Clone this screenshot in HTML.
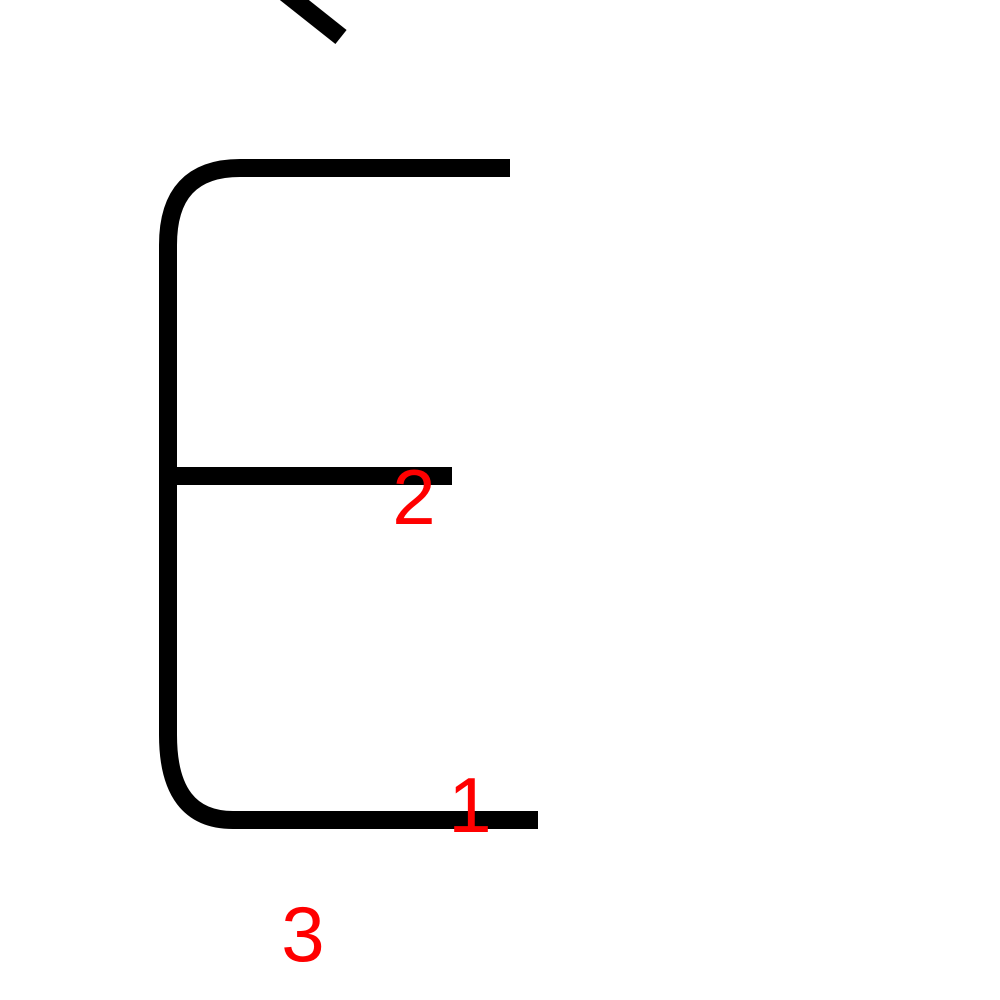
<!DOCTYPE html>
<html>
<head>
<meta charset="utf-8">
<style>
  html, body { margin: 0; padding: 0; background: #fff; }
  svg { display: block; }
  text { font-family: "Liberation Sans", Arial, sans-serif; fill: #ff0000; }
</style>
</head>
<body>
<svg width="1000" height="1000" viewBox="0 0 1000 1000">
  <rect x="0" y="0" width="1000" height="1000" fill="#fff"/>
  <g fill="none" stroke="#000" stroke-width="18">
    <path d="M283 -9 L341 37"/>
    <path d="M510 168 L240 168 Q168 168 168 245 L168 735 Q168 820 233 820 L538 820"/>
    <path d="M168 476 L452 476"/>
  </g>
  <text x="414" y="524" font-size="78" text-anchor="middle">2</text>
  <text x="470" y="832" font-size="78" text-anchor="middle">1</text>
  <text x="303" y="961" font-size="78" text-anchor="middle">3</text>
</svg>
</body>
</html>
